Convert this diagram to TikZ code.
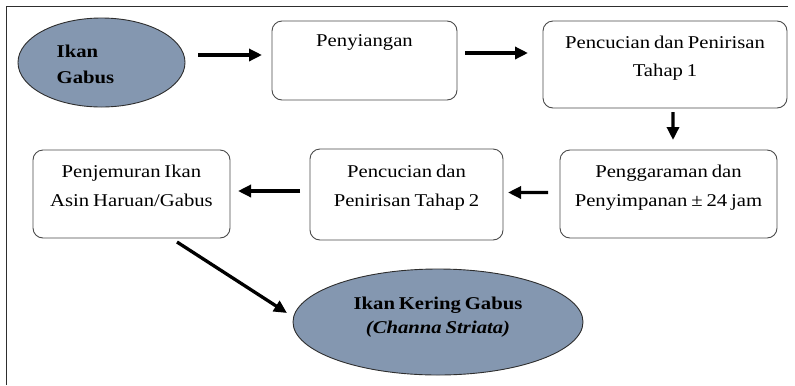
\documentclass[tikz,border=0pt]{standalone}
\usepackage{fontspec}
\setmainfont{Liberation Serif}[FakeStretch=1.15,WordSpace=0.75]
\usetikzlibrary{arrows.meta,shapes.geometric}

\definecolor{fishfill}{HTML}{8497B0}
\definecolor{edgegray}{HTML}{4A4A4A}
\definecolor{framegray}{HTML}{2E2E2E}

% text block of fixed size, top aligned, with a top gap
\newcommand{\stagetext}[4]{\parbox[c][#2bp][t]{#1bp}{\centering\vspace*{#3bp}#4}}
\newcommand{\fishtext}[4]{\parbox[c][#2bp][t]{#1bp}{\raggedright\vspace*{#3bp}#4}}

\tikzset{
  stagebox/.style={draw=edgegray, line width=0.9bp, rounded corners=10bp,
    inner sep=0pt, outer sep=0pt},
  fishnode/.style={ellipse, draw=framegray, line width=0.9bp, fill=fishfill,
    inner sep=0pt, outer sep=0pt},
  flow/.style={line width=3.3bp, -{Triangle[length=13bp,width=12bp]}},
}

\begin{document}
\begin{tikzpicture}[x=1bp,y=-1bp,
  every node/.append style={font=\fontsize{18bp}{27bp}\selectfont}]
\useasboundingbox (0,0) rectangle (795,385);

% outer frame (left and top edges only)
\draw[framegray, line width=1.5bp] (6.5,385) -- (6.5,6.5) -- (788,6.5);

% start and end of the process
\node[fishnode, minimum width=167bp, minimum height=89bp] (start) at (101.5,62.5)
  {\fishtext{89.6}{50}{7.5}{\bfseries\fontsize{18bp}{26bp}\selectfont Ikan\\Gabus}};
\node[fishnode, minimum width=290bp, minimum height=106bp] (product) at (438,322)
  {\stagetext{200}{60}{5.5}{\bfseries\fontsize{18bp}{24bp}\selectfont Ikan Kering Gabus\\\textit{(Channa Striata)}}};

% processing stages
\node[stagebox] (clean) at (364.5,60.5)
  {\stagetext{185}{79}{13.5}{Penyiangan}};
\node[stagebox] (wash1) at (665,64.5)
  {\stagetext{244}{87}{15.5}{\fontsize{18bp}{28bp}\selectfont Pencucian dan Penirisan\\Tahap 1}};
\node[stagebox] (salt) at (668.5,194)
  {\stagetext{217}{88}{15.5}{\fontsize{18bp}{29bp}\selectfont Penggaraman dan\\Penyimpanan ± 24 jam}};
\node[stagebox] (wash2) at (406.5,194.5)
  {\stagetext{193}{91}{16.5}{\fontsize{18bp}{29bp}\selectfont Pencucian dan\\Penirisan Tahap 2}};
\node[stagebox] (dry) at (131.5,194)
  {\stagetext{197}{88}{15.5}{\fontsize{18bp}{29bp}\selectfont Penjemuran Ikan\\Asin Haruan/Gabus}};

% flow arrows
\draw[flow] ([shift={(13,-7.5)}]start.east) -- ([shift={(-10,-5.5)}]clean.west);
\draw[flow] ([shift={(8,-7.5)}]clean.east) -- ([shift={(-15,-11.5)}]wash1.west);
\draw[flow] ([shift={(8,4)}]wash1.south) -- ([shift={(4.5,-10)}]salt.north);
\draw[flow] ([shift={(-12,-1.5)}]salt.west) -- ([shift={(5,-2)}]wash2.east);
\draw[flow] ([shift={(-10,-3.5)}]wash2.west) -- ([shift={(8,-3)}]dry.east);
\draw[flow] ([shift={(45.5,4)}]dry.south) -- ([shift={(-6,-9)}]product.west);
\end{tikzpicture}
\end{document}
